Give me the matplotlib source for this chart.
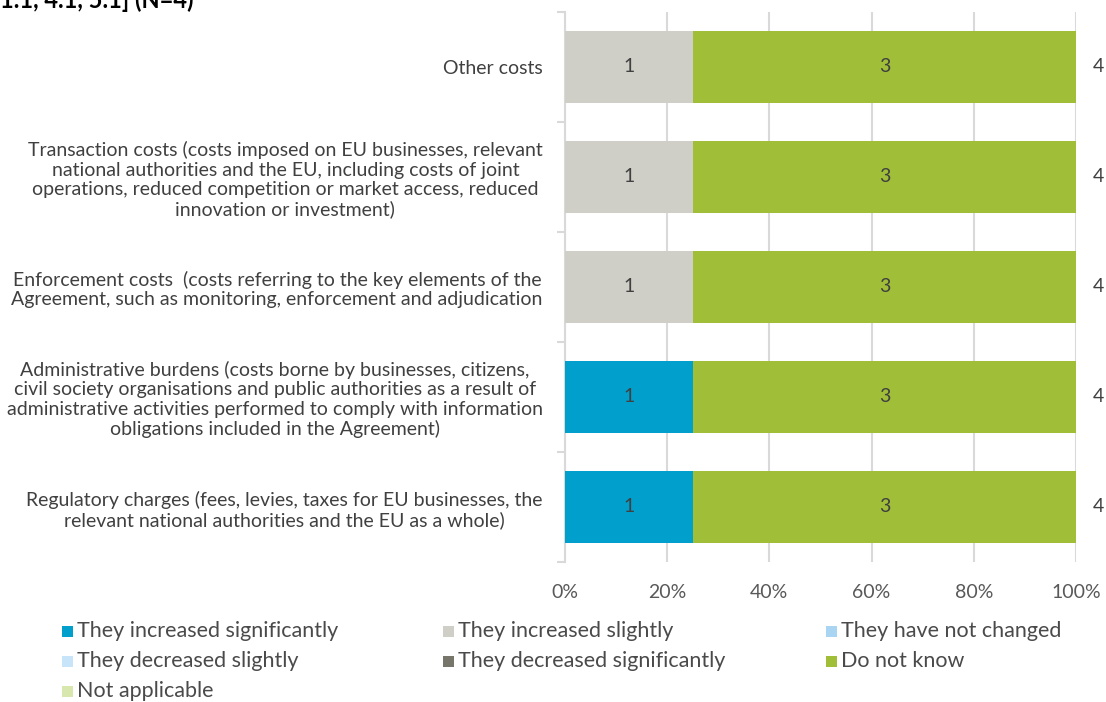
import matplotlib
matplotlib.use("Agg")
import matplotlib.pyplot as plt
from matplotlib.patches import Rectangle
import numpy as np

plt.rcParams['font.family'] = ['Lato', 'DejaVu Sans']

categories = [
    "Other costs",
    "Transaction costs (costs imposed on EU businesses, relevant\nnational authorities and the EU, including costs of joint\noperations, reduced competition or market access, reduced\ninnovation or investment)",
    "Enforcement costs  (costs referring to the key elements of the\nAgreement, such as monitoring, enforcement and adjudication",
    "Administrative burdens (costs borne by businesses, citizens,\ncivil society organisations and public authorities as a result of\nadministrative activities performed to comply with information\nobligations included in the Agreement)",
    "Regulatory charges (fees, levies, taxes for EU businesses, the\nrelevant national authorities and the EU as a whole)",
]
series_names = [
    "They increased significantly",
    "They increased slightly",
    "They have not changed",
    "They decreased slightly",
    "They decreased significantly",
    "Do not know",
    "Not applicable",
]
values = {
    "They increased significantly": [0, 0, 0, 1, 1],
    "They increased slightly":      [1, 1, 1, 0, 0],
    "They have not changed":        [0, 0, 0, 0, 0],
    "They decreased slightly":      [0, 0, 0, 0, 0],
    "They decreased significantly": [0, 0, 0, 0, 0],
    "Do not know":                  [3, 3, 3, 3, 3],
    "Not applicable":               [0, 0, 0, 0, 0],
}
colors = ["#009FCC", "#CFCFC7", "#A9D4F2", "#C8E4F8", "#76766A", "#A1BE38", "#D7E7AE"]
xticks = [0, 20, 40, 60, 80, 100]
title_fragment = "1.1, 4.1, 5.1] (N=4)"

W, H = 1106, 702
fig = plt.figure(figsize=(W/100, H/100), dpi=100)
ax = fig.add_axes([565/W, 1-562/H, 511/W, 550/H])

n = len(categories)
ypos = np.arange(n)
totals = np.sum([values[s] for s in series_names], axis=0)
left = np.zeros(n)
text_col = "#404040"
for s, c in zip(series_names, colors):
    v = np.array(values[s], dtype=float)
    pct = v / totals * 100
    ax.barh(ypos, pct, left=left, height=0.655, color=c, zorder=3)
    for i in range(n):
        if v[i] > 0:
            ax.text(left[i] + pct[i]/2, ypos[i], f"{int(v[i])}", ha='center', va='center',
                    fontsize=14, color=text_col, zorder=4)
    left += pct
for i in range(n):
    ax.text(103.2, ypos[i], f"{int(totals[i])}", ha='left', va='center', fontsize=14,
            color=text_col, clip_on=False)

ax.set_xlim(0, 100)
ax.set_ylim(n - 0.5, -0.5)
ax.set_xticks(xticks)
ax.set_xticklabels([f"{t}%" for t in xticks], fontsize=14, color="#595959")
ax.set_yticks(ypos)
ax.set_yticklabels(categories, fontsize=14, color=text_col, multialignment='center',
                   linespacing=1.16)
ax.tick_params(axis='y', length=0, pad=16)
ax.tick_params(axis='x', length=0, pad=16)
ax.set_yticks(np.arange(n + 1) - 0.5, minor=True)
ax.tick_params(axis='y', which='minor', length=6, color="#D9D9D9", width=1.5)
ax.grid(axis='x', color="#D9D9D9", linewidth=1.5, zorder=0)
for sp in ['top', 'right', 'bottom']:
    ax.spines[sp].set_visible(False)
ax.spines['left'].set_color("#D9D9D9")
ax.spines['left'].set_linewidth(1.5)

fig.text(0.0, 1.0 + 0.016, title_fragment, ha='left', va='top', fontsize=17,
         fontweight='bold', color='black')

# legend laid out row-wise, 3 columns
col_x = [62, 443, 826]
row_y = [631, 661, 691]
sq = 11
for k, (name, c) in enumerate(zip(series_names, colors)):
    r, col = divmod(k, 3)
    x0, y0 = col_x[col], row_y[r]
    fig.patches.append(Rectangle((x0/W, 1-(y0+sq/2)/H), sq/W, sq/H, facecolor=c,
                                 edgecolor='none', transform=fig.transFigure, figure=fig))
    fig.text((x0+sq+4)/W, 1-y0/H, name, ha='left', va='center', fontsize=15.5,
             color="#4a4a4a")

fig.savefig("out.png", dpi=100)
